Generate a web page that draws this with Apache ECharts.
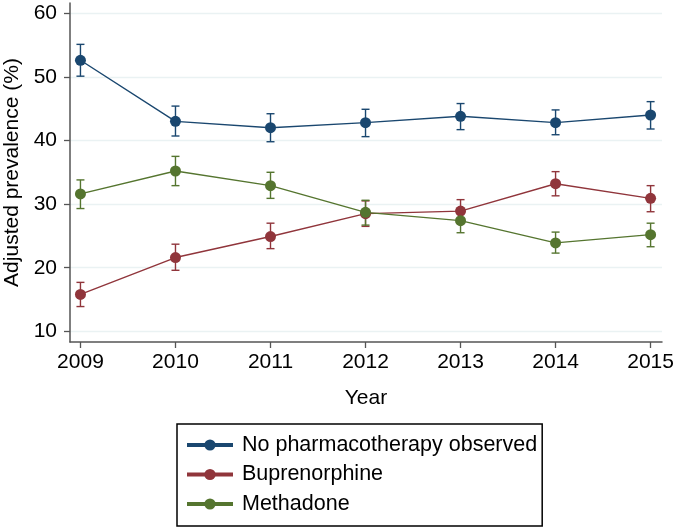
<!DOCTYPE html>
<html>
<head>
<meta charset="utf-8">
<script src="https://cdn.jsdelivr.net/npm/echarts@6/dist/echarts.min.js"></script>
<style>
html,body{margin:0;padding:0;background:#fff;}
#chart{width:675px;height:528px;}
</style>
</head>
<body>
<div id="chart"></div>
<script>
// Data
var years = [2009, 2010, 2011, 2012, 2013, 2014, 2015];
var yTicks = [10, 20, 30, 40, 50, 60];
var seriesNames = ['No pharmacotherapy observed', 'Buprenorphine', 'Methadone'];

var noPharma      = [52.6, 43.0, 42.0, 42.8, 43.8, 42.8, 44.0];
var noPharmaLow   = [50.1, 40.7, 39.8, 40.6, 41.7, 40.9, 41.8];
var noPharmaHigh  = [55.1, 45.4, 44.2, 44.9, 45.8, 44.8, 46.1];

var bupre         = [15.8, 21.6, 24.9, 28.5, 28.9, 33.2, 30.9];
var bupreLow      = [13.9, 19.6, 23.0, 26.5, 27.0, 31.3, 28.8];
var bupreHigh     = [17.7, 23.7, 27.0, 30.5, 30.7, 35.1, 32.9];

var metha         = [31.6, 35.2, 32.9, 28.7, 27.4, 23.9, 25.2];
var methaLow      = [29.3, 32.9, 30.9, 26.7, 25.5, 22.3, 23.3];
var methaHigh     = [33.8, 37.5, 35.0, 30.6, 29.3, 25.6, 27.0];

var colors = ['#1a476f', '#90353b', '#55752f'];

function pairs(xs, ys) { return xs.map(function (x, i) { return [x, ys[i]]; }); }
function triples(xs, lo, hi) { return xs.map(function (x, i) { return [x, lo[i], hi[i]]; }); }

function errorSeries(name, color, lo, hi) {
  return {
    type: 'custom',
    name: name,
    data: triples(years, lo, hi),
    encode: { x: 0, y: [1, 2] },
    z: 3,
    silent: true,
    renderItem: function (params, api) {
      var x = api.value(0);
      var pLo = api.coord([x, api.value(1)]);
      var pHi = api.coord([x, api.value(2)]);
      var hw = 4;
      var st = { stroke: color, lineWidth: 1.4, fill: null };
      return {
        type: 'group',
        children: [
          { type: 'line', shape: { x1: pLo[0], y1: pLo[1], x2: pHi[0], y2: pHi[1] }, style: st },
          { type: 'line', shape: { x1: pLo[0] - hw, y1: pLo[1], x2: pLo[0] + hw, y2: pLo[1] }, style: st },
          { type: 'line', shape: { x1: pHi[0] - hw, y1: pHi[1], x2: pHi[0] + hw, y2: pHi[1] }, style: st }
        ]
      };
    }
  };
}

function lineSeries(name, color, vals) {
  return {
    type: 'line',
    name: name,
    data: pairs(years, vals),
    symbol: 'circle',
    symbolSize: 11,
    showSymbol: true,
    z: 4,
    lineStyle: { color: color, width: 1.4 },
    itemStyle: { color: color },
    emphasis: { disabled: true }
  };
}

var chart = echarts.init(document.getElementById('chart'), null, { renderer: 'canvas' });
var font = 'Liberation Sans, Arial, sans-serif';

chart.setOption({
  animation: false,
  backgroundColor: '#ffffff',
  textStyle: { fontFamily: font },
  grid: { left: 70, right: 13, top: 3, bottom: 186, containLabel: false, outerBoundsMode: 'none' },
  xAxis: {
    type: 'value',
    min: 2008.89,
    max: 2015.12,
    name: 'Year',
    nameLocation: 'middle',
    nameGap: 46,
    nameTextStyle: { fontSize: 21, color: '#000', fontFamily: font },
    axisLine: { show: true, lineStyle: { color: '#555', width: 1.5 } },
    axisTick: { show: true, length: 6, lineStyle: { color: '#555', width: 1.3 }, customValues: years },
    axisLabel: { fontSize: 21, color: '#000', margin: 10, fontFamily: font, customValues: years,
                 formatter: function (v) { return String(Math.round(v)); } },
    splitLine: { show: false }
  },
  yAxis: {
    type: 'value',
    min: 8.33,
    max: 61.6,
    name: 'Adjusted prevalence (%)',
    nameLocation: 'middle',
    nameGap: 46,
    nameTextStyle: { fontSize: 21, color: '#000', fontFamily: font },
    axisLine: { show: true, lineStyle: { color: '#555', width: 1.5 } },
    axisTick: { show: true, length: 6, lineStyle: { color: '#555', width: 1.3 }, customValues: yTicks },
    axisLabel: { fontSize: 21, color: '#000', margin: 13, fontFamily: font, customValues: yTicks,
                 formatter: function (v) { return String(Math.round(v)); } },
    splitLine: { show: true, lineStyle: { color: '#eaf2f3', width: 1.3 } }
  },
  legend: {
    data: seriesNames,
    orient: 'vertical',
    left: 177,
    top: 424,
    padding: [10, 5, 11, 8],
    itemGap: 7.5,
    itemWidth: 46,
    itemHeight: 14,
    borderColor: '#000',
    borderWidth: 1.5,
    backgroundColor: '#fff',
    selectedMode: false,
    lineStyle: { width: 4 },
    textStyle: { fontSize: 21.5, color: '#000', fontFamily: font, lineHeight: 21, padding: [0, 0, 0, 4] }
  },
  series: [
    errorSeries('err0', colors[0], noPharmaLow, noPharmaHigh),
    errorSeries('err1', colors[1], bupreLow, bupreHigh),
    errorSeries('err2', colors[2], methaLow, methaHigh),
    lineSeries(seriesNames[0], colors[0], noPharma),
    lineSeries(seriesNames[1], colors[1], bupre),
    lineSeries(seriesNames[2], colors[2], metha)
  ]
});
</script>
</body>
</html>
